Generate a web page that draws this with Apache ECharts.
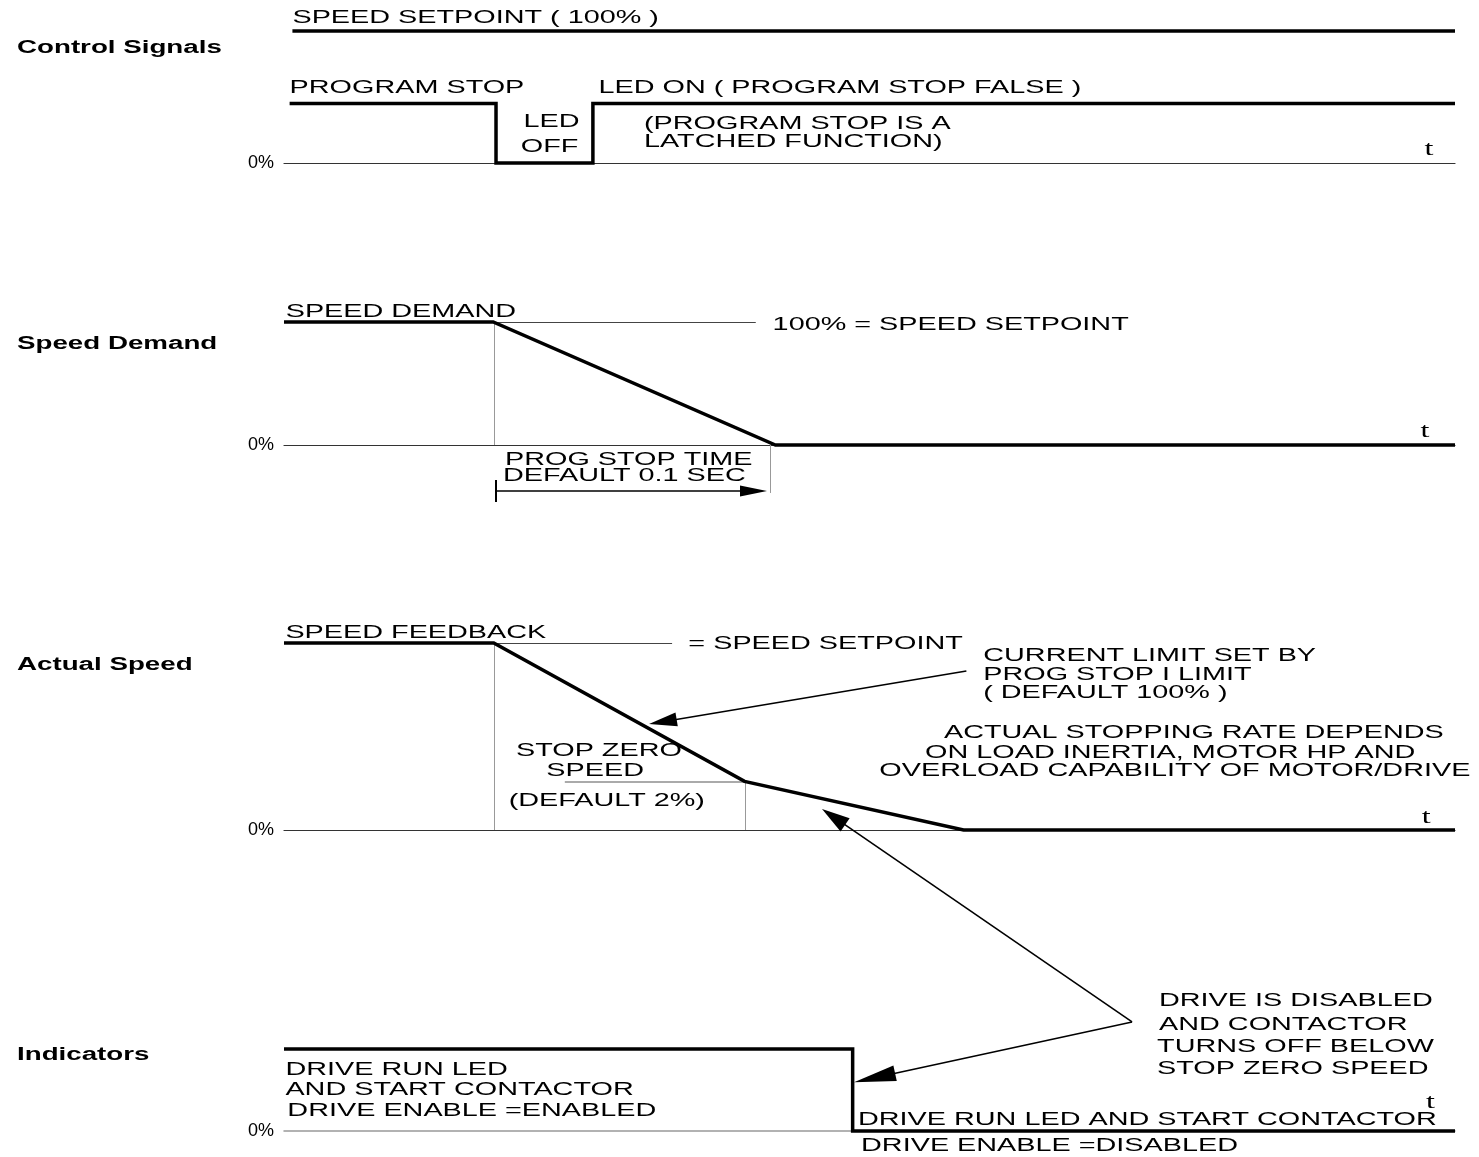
<!DOCTYPE html>
<html>
<head>
<meta charset="utf-8">
<title>Program stop timing</title>
<script src="https://cdn.jsdelivr.net/npm/echarts@6/dist/echarts.min.js"></script>
<style>
  html, body { margin: 0; padding: 0; background: #fff; }
  #chart { width: 1479px; height: 1157px; }
</style>
</head>
<body>
<div id="chart"></div>
<script>
'use strict';

// time in ms (prog stop time default 0.1 sec = 100 ms), level in %
var TIME_MAX = 417;

var setpointTime  = [3, 417];
var setpointLevel = [100, 100];

var progStopTime  = [2, 75.5, 75.5, 110, 110, 417];
var progStopLevel = [45, 45, 0, 0, 45, 45];

var demandTime  = [0, 74.5, 175, 417];
var demandLevel = [100, 100, 0, 0];

var feedbackTime  = [0, 74.7, 164, 242, 417];
var feedbackLevel = [100, 100, 26, 0, 0];

var runLedTime  = [0, 202.5, 202.5, 417];
var runLedLevel = [100, 100, 0, 0];

var stopZeroLevel = 26;
var zeroTick = '0%';

// helper segments and arrows, in [time, level] of their panel
var demandRef    = [[74.5, 100], [168, 100]];
var demandStart  = [[74.7, 100], [74.7, 0]];
var demandEnd    = [[173, 0], [173, -39]];
var stopTimeTick = [[75.5, -28.5], [75.5, -46.3]];
var stopTimeArrow = [[75.5, -37.4], [167.2, -37.4]];

var feedbackRef   = [[74.7, 100], [138.2, 100]];
var feedbackStart = [[74.7, 100], [74.7, 0]];
var stopZeroLine  = [[100, stopZeroLevel], [164.2, stopZeroLevel]];
var stopZeroDrop  = [[164.2, stopZeroLevel], [164.2, 0]];
var limitArrow    = [[243, 85], [134.9, 57.9]];

var disableArrowSpeed = [[302, 133], [195.7, 383]];
var disableArrowLed   = [[302, 133], [210.3, 65]];

var panelTitles = ['Control Signals', 'Speed Demand', 'Actual Speed', 'Indicators'];

var TEXT_FONT = '18px "Liberation Sans", Arial, sans-serif';
var TITLE_FONT = 'bold 18px "Liberation Sans", Arial, sans-serif';
var T_FONT = '20px "Liberation Serif", "Times New Roman", serif';
var STRETCH = 1.6;
var TEXT_DY = 1.5;

function pairs(ts, vs) {
    return ts.map(function (t, i) { return [t, vs[i]]; });
}

var grids = [
    { left: 284, right: 24, top: 31, height: 132 },
    { left: 284, right: 24, top: 322, height: 123 },
    { left: 284, right: 24, top: 643, height: 187 },
    { left: 284, right: 24, top: 1049, height: 82 }
];

var xAxes = grids.map(function (g, i) {
    return {
        type: 'value', gridIndex: i, min: 0, max: TIME_MAX,
        axisLine: { show: true, onZero: false, lineStyle: { color: i === 3 ? '#999' : '#333', width: i === 3 ? 1.5 : 1.2 } },
        axisTick: { show: false }, axisLabel: { show: false }, splitLine: { show: false }
    };
});

var yAxes = grids.map(function (g, i) {
    return {
        type: 'value', gridIndex: i, min: 0, max: 100, interval: 100,
        axisLine: { show: false }, axisTick: { show: false }, splitLine: { show: false },
        axisLabel: {
            margin: 10, color: '#000', fontSize: 18, fontFamily: 'Liberation Sans',
            formatter: function (v) { return v === 0 ? zeroTick : ''; }
        }
    };
});

function signal(i, data) {
    return {
        type: 'line', xAxisIndex: i, yAxisIndex: i, data: data,
        symbol: 'none', clip: false, silent: true,
        lineStyle: { color: '#000', width: 3.5, join: 'miter' }
    };
}

function guide(i, segs, color, width) {
    return {
        type: 'lines', coordinateSystem: 'cartesian2d', xAxisIndex: i, yAxisIndex: i,
        clip: false, silent: true,
        data: segs.map(function (s) { return { coords: s }; }),
        lineStyle: { color: color, width: width, opacity: 1 }
    };
}

function arrow(i, seg, head) {
    return {
        type: 'lines', coordinateSystem: 'cartesian2d', xAxisIndex: i, yAxisIndex: i,
        clip: false, silent: true,
        symbol: ['none', 'triangle'], symbolSize: [0, head],
        data: [{ coords: seg }],
        lineStyle: { color: '#000', width: 1.6, opacity: 1 }
    };
}

var option = {
    backgroundColor: '#fff',
    animation: false,
    grid: grids,
    xAxis: xAxes,
    yAxis: yAxes,
    series: [
        signal(0, pairs(setpointTime, setpointLevel)),
        signal(0, pairs(progStopTime, progStopLevel)),
        signal(1, pairs(demandTime, demandLevel)),
        signal(2, pairs(feedbackTime, feedbackLevel)),
        signal(3, pairs(runLedTime, runLedLevel)),

        guide(1, [demandRef], '#444', 1.2),
        guide(1, [demandStart, demandEnd], '#999', 1),
        guide(1, [stopTimeTick], '#000', 2),
        arrow(1, stopTimeArrow, [11, 27]),

        guide(2, [feedbackRef], '#444', 1.2),
        guide(2, [feedbackStart, stopZeroDrop], '#999', 1),
        guide(2, [stopZeroLine], '#aaa', 2),
        arrow(2, limitArrow, [14, 28]),

        arrow(3, disableArrowSpeed, [16, 28]),
        arrow(3, disableArrowLed, [16, 42])
    ]
};

var chart = echarts.init(document.getElementById('chart'));
chart.setOption(option);

// texts anchored to [time, level] of a panel: [panel, t, level, text, align]
var notes = [
    [0, 3, 111, 'SPEED SETPOINT ( 100% )'],
    [0, 2, 58, 'PROGRAM STOP'],
    [0, 112, 58, 'LED ON ( PROGRAM STOP FALSE )'],
    [0, 95.3, 32, 'LED', 'center'],
    [0, 94.6, 13.5, 'OFF', 'center'],
    [0, 128.2, 31, '(PROGRAM STOP IS A'],
    [0, 128.2, 17, 'LATCHED FUNCTION)'],

    [1, 0.6, 109, 'SPEED DEMAND'],
    [1, 174, 98.4, '100% = SPEED SETPOINT'],
    [1, 78.7, -10.6, 'PROG STOP TIME'],
    [1, 78, -24, 'DEFAULT 0.1 SEC'],

    [2, 0.5, 106.4, 'SPEED FEEDBACK'],
    [2, 144, 100.3, '= SPEED SETPOINT'],
    [2, 82.6, 42.8, 'STOP ZERO'],
    [2, 110.8, 32.6, 'SPEED', 'center'],
    [2, 80, 16.5, '(DEFAULT 2%)'],
    [2, 249, 93.6, 'CURRENT LIMIT SET BY'],
    [2, 249, 83.7, 'PROG STOP I LIMIT'],
    [2, 249, 73.8, '( DEFAULT 100% )'],
    [2, 235, 52.4, 'ACTUAL STOPPING RATE DEPENDS'],
    [2, 228.3, 42.2, 'ON LOAD INERTIA, MOTOR HP AND'],
    [2, 212, 32.6, 'OVERLOAD CAPABILITY OF MOTOR/DRIVE'],

    [3, 0.5, 75.6, 'DRIVE RUN LED'],
    [3, 0.5, 51.2, 'AND START CONTACTOR'],
    [3, 1.2, 26.2, 'DRIVE ENABLE =ENABLED'],
    [3, 204.4, 14.6, 'DRIVE RUN LED AND START CONTACTOR'],
    [3, 205.5, -17.1, 'DRIVE ENABLE =DISABLED'],
    [3, 311.6, 159.8, 'DRIVE IS DISABLED'],
    [3, 311.6, 130.5, 'AND CONTACTOR'],
    [3, 310.9, 103.7, 'TURNS OFF BELOW'],
    [3, 310.9, 77.4, 'STOP ZERO SPEED']
];
var timeMarks = [[0, 407.7, 11.1], [1, 406.3, 12.2], [2, 406.7, 7.1], [3, 408.3, 36.6]];
var titleRows = [47, 343, 664, 1054];

var graphics = [];
notes.forEach(function (n) {
    var p = chart.convertToPixel({ gridIndex: n[0] }, [n[1], n[2]]);
    graphics.push({
        type: 'text', x: p[0], y: p[1] + TEXT_DY, scaleX: STRETCH, silent: true,
        style: { text: n[3], font: TEXT_FONT, fill: '#000', align: n[4] || 'left', verticalAlign: 'middle' }
    });
});
timeMarks.forEach(function (m) {
    var p = chart.convertToPixel({ gridIndex: m[0] }, [m[1], m[2]]);
    graphics.push({
        type: 'text', x: p[0], y: p[1] + TEXT_DY, scaleX: STRETCH, silent: true,
        style: { text: 't', font: T_FONT, fill: '#000', align: 'center', verticalAlign: 'middle' }
    });
});
panelTitles.forEach(function (name, i) {
    graphics.push({
        type: 'text', x: 17, y: titleRows[i] + TEXT_DY, scaleX: 1.54, silent: true,
        style: { text: name, font: TITLE_FONT, fill: '#000', align: 'left', verticalAlign: 'middle' }
    });
});

chart.setOption({ graphic: graphics });
</script>
</body>
</html>
